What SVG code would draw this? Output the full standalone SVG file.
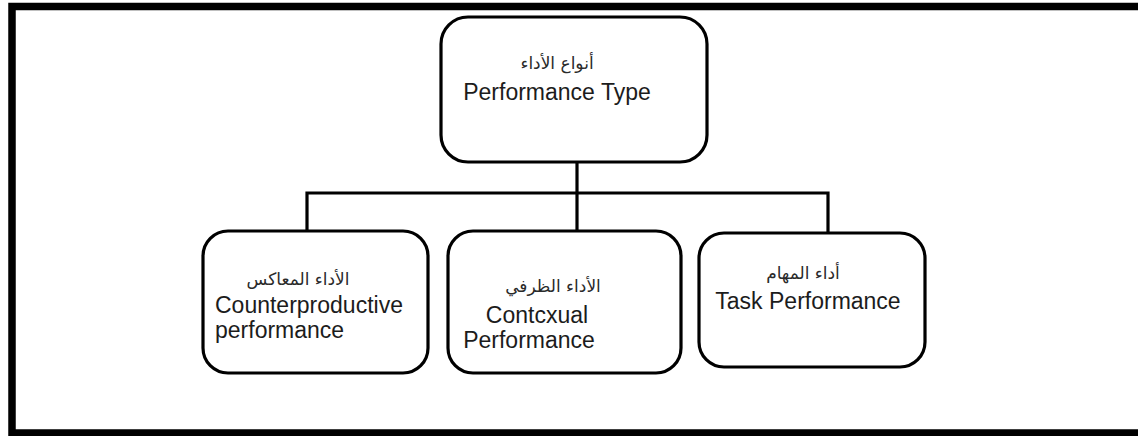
<svg xmlns="http://www.w3.org/2000/svg" width="1138" height="436" viewBox="0 0 1138 436">
<style>
.frame{fill:none;stroke:#000;stroke-width:7.5}
.box{fill:#fff;stroke:#000;stroke-width:3.2}
.conn{fill:none;stroke:#000;stroke-width:3.2}
.en{font-family:"Liberation Sans",Arial,sans-serif;font-size:23px;fill:#1c1c1c}
.ar{font-family:"DejaVu Sans","Noto Sans",sans-serif;font-size:17px;fill:#2a2a2a;text-anchor:middle}
</style>
<rect width="1138" height="436" fill="#fff"/>
<rect class="frame" x="12" y="6.5" width="1140" height="426.5"/>
<g id="connectors">
<path class="conn" d="M577,162 V231"/>
<path class="conn" d="M307,231 V193 H828 V233"/>
</g>
<g id="node-type">
<rect class="box" x="441" y="17" width="266" height="145" rx="27"/>
<text class="ar" x="557" y="69">أنواع الأداء</text>
<text class="en" x="557" y="100" text-anchor="middle">Performance Type</text>
</g>
<g id="node-counter">
<rect class="box" x="203" y="231" width="225" height="142" rx="25"/>
<text class="ar" x="298" y="285">الأداء المعاكس</text>
<text class="en" x="215" y="313">Counterproductive</text>
<text class="en" x="215" y="338">performance</text>
</g>
<g id="node-contextual">
<rect class="box" x="448" y="231" width="233" height="142" rx="25"/>
<text class="ar" x="553" y="292">الأداء الظرفي</text>
<text class="en" x="537" y="323" text-anchor="middle">Contcxual</text>
<text class="en" x="529" y="348" text-anchor="middle">Performance</text>
</g>
<g id="node-task">
<rect class="box" x="699" y="233" width="226" height="134" rx="25"/>
<text class="ar" x="803" y="279">أداء المهام</text>
<text class="en" x="808" y="309" text-anchor="middle">Task Performance</text>
</g>
</svg>
